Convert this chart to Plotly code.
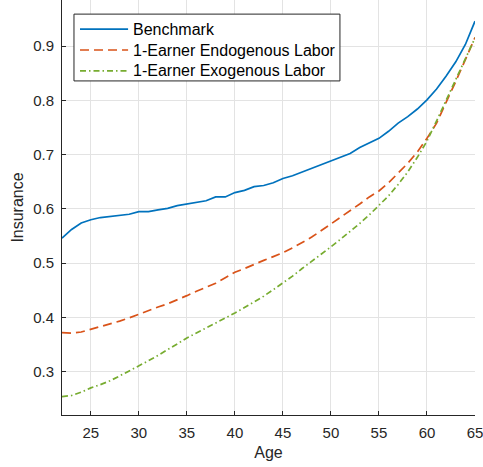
import plotly.graph_objects as go

ages = list(range(22, 66))

benchmark = [0.546, 0.562, 0.574, 0.580, 0.584, 0.586, 0.588, 0.590, 0.595, 0.595,
             0.598, 0.601, 0.606, 0.609, 0.613, 0.615, 0.622, 0.622, 0.630, 0.634,
             0.641, 0.643, 0.648, 0.656, 0.661, 0.668, 0.674, 0.681, 0.688, 0.695,
             0.702, 0.713, 0.721, 0.730, 0.743, 0.758, 0.770, 0.784, 0.801, 0.821,
             0.845, 0.871, 0.903, 0.946]

endogenous = [0.372, 0.371, 0.373, 0.378, 0.382, 0.387, 0.393, 0.399, 0.406, 0.412,
              0.419, 0.425, 0.432, 0.440, 0.448, 0.455, 0.463, 0.473, 0.483, 0.490,
              0.498, 0.505, 0.512, 0.519, 0.528, 0.538, 0.548, 0.560, 0.572, 0.584,
              0.596, 0.609, 0.622, 0.633, 0.648, 0.666, 0.684, 0.705, 0.730, 0.758,
              0.795, 0.835, 0.875, 0.916]

exogenous = [0.254, 0.256, 0.262, 0.270, 0.276, 0.283, 0.292, 0.301, 0.311, 0.320,
             0.330, 0.340, 0.351, 0.362, 0.371, 0.380, 0.389, 0.398, 0.408, 0.418,
             0.428, 0.439, 0.451, 0.463, 0.476, 0.490, 0.503, 0.517, 0.530, 0.544,
             0.558, 0.573, 0.589, 0.606, 0.624, 0.645, 0.668, 0.695, 0.725, 0.762,
             0.800, 0.840, 0.876, 0.915]

x_ticks = [25, 30, 35, 40, 45, 50, 55, 60, 65]
y_ticks = [0.3, 0.4, 0.5, 0.6, 0.7, 0.8, 0.9]

names = ["Benchmark", "1-Earner Endogenous Labor", "1-Earner Exogenous Labor"]
colors = ["#0072BD", "#D95319", "#77AC30"]
dashes = ["solid", "9px,5px", "6px,3px,1.5px,3px"]

fig = go.Figure()
for name, ys, c, d in zip(names, [benchmark, endogenous, exogenous], colors, dashes):
    fig.add_trace(go.Scatter(x=ages, y=ys, mode="lines", name=name,
                             line=dict(color=c, width=1.7, dash=d)))

axis_common = dict(
    showline=True, linecolor="#262626", linewidth=1,
    ticks="inside", ticklen=4, tickcolor="#262626",
    showgrid=True, gridcolor="#e3e3e3", gridwidth=1,
    zeroline=False, mirror=False, automargin=False,
    ticklabeloverflow="allow",
    tickfont=dict(family="Liberation Sans, Arial", size=15, color="#262626"),
)

# Legend box drawn in the MATLAB style (paper coordinates of the plot area)
leg_x0, leg_x1, leg_y0, leg_y1 = 0.029, 0.673, 0.805, 0.966
sample_x0, sample_x1, text_x = 0.0436, 0.160, 0.167
row_y = [0.930, 0.8795, 0.829]

shapes = [dict(type="rect", xref="paper", yref="paper",
               x0=leg_x0, x1=leg_x1, y0=leg_y0, y1=leg_y1,
               line=dict(color="#262626", width=1), fillcolor="white", layer="above")]
annotations = []
for name, c, d, ry in zip(names, colors, dashes, row_y):
    shapes.append(dict(type="line", xref="paper", yref="paper",
                       x0=sample_x0, x1=sample_x1, y0=ry, y1=ry,
                       line=dict(color=c, width=1.7, dash=d), layer="above"))
    annotations.append(dict(text=name, xref="paper", yref="paper", x=text_x, y=ry,
                            xanchor="left", yanchor="middle", showarrow=False,
                            font=dict(family="Liberation Sans, Arial", size=16, color="#000000")))

fig.update_layout(
    width=483, height=467,
    margin=dict(l=62, r=8, t=0, b=52),
    paper_bgcolor="white", plot_bgcolor="white",
    font=dict(family="Liberation Sans, Arial", color="#262626"),
    xaxis=dict(range=[22, 65.0001], tickvals=x_ticks, ticklabelstandoff=4,
               title=dict(text="Age", font=dict(size=16, color="#262626"), standoff=6),
               **axis_common),
    yaxis=dict(range=[0.22, 0.985], tickvals=y_ticks, tickformat=".1f", ticklabelstandoff=4,
               title=dict(text="Insurance", font=dict(size=16, color="#262626"), standoff=5),
               **axis_common),
    shapes=shapes,
    annotations=annotations,
    showlegend=False,
)

fig.write_html("out.html", config={"displayModeBar": False},
               post_script="document.body.style.margin='0';document.body.style.padding='0';")
